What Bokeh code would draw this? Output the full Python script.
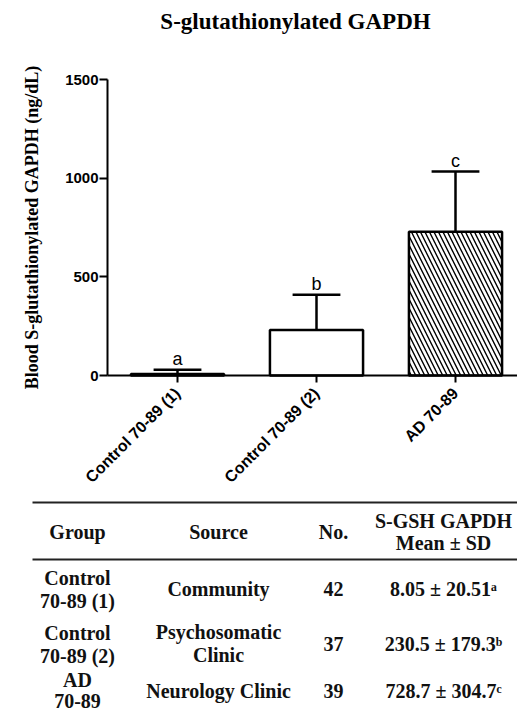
import math
from bokeh.plotting import figure
from bokeh.models import Range1d, FixedTicker, LinearAxis
from bokeh.core.properties import value
from bokeh.embed import file_html
from bokeh.resources import INLINE

# ---------------- data ----------------
groups = ["Control 70-89 (1)", "Control 70-89 (2)", "AD 70-89"]
means = [8.05, 230.5, 728.7]
sds = [20.51, 179.3, 304.7]
letters = ["a", "b", "c"]
y_ticks = [0, 500, 1000, 1500]

title_text = "S-glutathionylated GAPDH"
y_label = "Blood S-glutathionylated GAPDH (ng/dL)"

table_headers = ["Group", "Source", "No."]
mean_header = ["S-GSH GAPDH", "Mean \u00b1 SD"]
group_line1 = ["Control", "Control", "AD"]
group_line2 = ["70-89 (1)", "70-89 (2)", "70-89"]
sources = [["Community"], ["Psychosomatic", "Clinic"], ["Neurology Clinic"]]
n_values = [42, 37, 39]
sup_letters = {"a": "\u1d43", "b": "\u1d47", "c": "\u1d9c"}

SERIF = value("Liberation Serif")
SANS = value("Liberation Sans")

# ---------------- figure (frame covers the whole canvas) ----------------
W, H = 517, 713
AXIS_X, AXIS_Y = 107, 375        # pixel position of y-axis / x-axis
FIRST_CAT = 177                  # pixel x of first category
PX_PER_CAT = 139.0
PX_PER_UNIT = 296.0 / 1500.0
x_start = -FIRST_CAT / PX_PER_CAT
x_end = x_start + W / PX_PER_CAT
y_end = AXIS_Y / PX_PER_UNIT
y_start = -(H - AXIS_Y) / PX_PER_UNIT
x_axis_left = x_start + AXIS_X / PX_PER_CAT

xs = list(range(len(groups)))
tops = [m + s for m, s in zip(means, sds)]

p = figure(width=W, height=H, output_backend="svg", toolbar_location=None,
           x_range=Range1d(x_start, x_end), y_range=Range1d(y_start, y_end),
           x_axis_location=None, y_axis_location=None, min_border=0, tools="")
p.outline_line_color = None
p.xgrid.visible = False
p.ygrid.visible = False
p.background_fill_color = "white"
p.border_fill_color = "white"
# pixel-based helper ranges for title and table layout
p.extra_x_ranges = {"px": Range1d(0, W)}
p.extra_y_ranges = {"px": Range1d(H, 0)}

# bars
p.vbar(x=xs[:2], top=means[:2], width=0.67, fill_color="white",
       line_color="black", line_width=2.5)
p.vbar(x=xs[2:], top=means[2:], width=0.67, fill_color="white",
       line_color="black", line_width=2.5, hatch_pattern="\\",
       hatch_color="black", hatch_scale=9, hatch_weight=1.4)

# error bars (upper only)
p.segment(x0=xs, y0=means, x1=xs, y1=tops, line_color="black", line_width=2.5)
p.segment(x0=[x - 0.172 for x in xs], y0=tops, x1=[x + 0.172 for x in xs], y1=tops,
          line_color="black", line_width=2.5)

# significance letters
p.text(x=xs, y=tops, text=letters, text_align="center", text_baseline="alphabetic",
       y_offset=-11, text_font=SANS, text_font_size="18px", text_color="black")

# title
p.text(x=[295], y=[21], text=[title_text], text_align="center",
       text_baseline="middle", text_font=SERIF, text_font_style="bold",
       text_font_size="23px", text_color="black",
       x_range_name="px", y_range_name="px")

# axes (real Bokeh axes, pinned at fixed locations)
yaxis = LinearAxis(fixed_location=x_axis_left, bounds=(0, 1500),
                   ticker=FixedTicker(ticks=y_ticks))
yaxis.minor_tick_line_color = None
yaxis.major_tick_out = 8
yaxis.major_tick_in = 0
yaxis.major_tick_line_width = 2
yaxis.axis_line_width = 2
yaxis.major_label_standoff = 1
yaxis.major_label_text_font = "Liberation Sans"
yaxis.major_label_text_font_style = "bold"
yaxis.major_label_text_font_size = "15px"
yaxis.major_label_text_color = "black"
yaxis.axis_label = y_label
yaxis.axis_label_text_font = "Liberation Serif"
yaxis.axis_label_text_font_style = "bold"
yaxis.axis_label_text_font_size = "18px"
yaxis.axis_label_text_color = "black"
yaxis.axis_label_standoff = 20
p.add_layout(yaxis, "left")

xaxis = LinearAxis(fixed_location=0, bounds=(x_axis_left, x_end),
                   ticker=FixedTicker(ticks=xs))
xaxis.major_label_overrides = {x: g for x, g in zip(xs, groups)}
xaxis.major_label_orientation = math.pi / 4
xaxis.minor_tick_line_color = None
xaxis.major_tick_out = 7
xaxis.major_tick_in = 0
xaxis.major_tick_line_width = 2
xaxis.axis_line_width = 2
xaxis.major_label_standoff = 8
xaxis.major_label_text_font = "Liberation Sans"
xaxis.major_label_text_font_style = "bold"
xaxis.major_label_text_font_size = "16px"
xaxis.major_label_text_color = "black"
p.add_layout(xaxis, "below")

# ---------------- table (pixel layout below the chart) ----------------
rule_y = [502, 559]
p.segment(x0=[32] * 2, y0=rule_y, x1=[W] * 2, y1=rule_y, line_color="#222222",
          line_width=2, x_range_name="px", y_range_name="px")

tx, ty, tt = [], [], []
def add(x, y, s):
    tx.append(x); ty.append(y); tt.append(s)

col_x = [77, 218, 333, 443]
for cx, h in zip(col_x[:3], table_headers):
    add(cx, 531, h)
add(col_x[3], 520, mean_header[0])
add(col_x[3], 542, mean_header[1])

row_y = [588, 643, 690]
for ry, g1, g2 in zip([577, 632, 679], group_line1, group_line2):
    add(col_x[0], ry, g1)
    add(col_x[0], ry + (23 if ry < 670 else 21), g2)
for ry, lines in zip(row_y, sources):
    n = len(lines)
    for k, s in enumerate(lines):
        add(col_x[1], ry + (k - (n - 1) / 2) * 23, s)
for ry, n in zip(row_y, n_values):
    add(col_x[2], ry, str(n))
for ry, m, s, l in zip(row_y, means, sds, letters):
    add(col_x[3], ry, f"{m} \u00b1 {s}{sup_letters[l]}")

p.text(x=tx, y=ty, text=tt, text_align="center", text_baseline="middle",
       text_font=SERIF, text_font_style="bold", text_font_size="20px",
       text_color="#111111", x_range_name="px", y_range_name="px")

open("out.html", "w").write(file_html(p, INLINE))
